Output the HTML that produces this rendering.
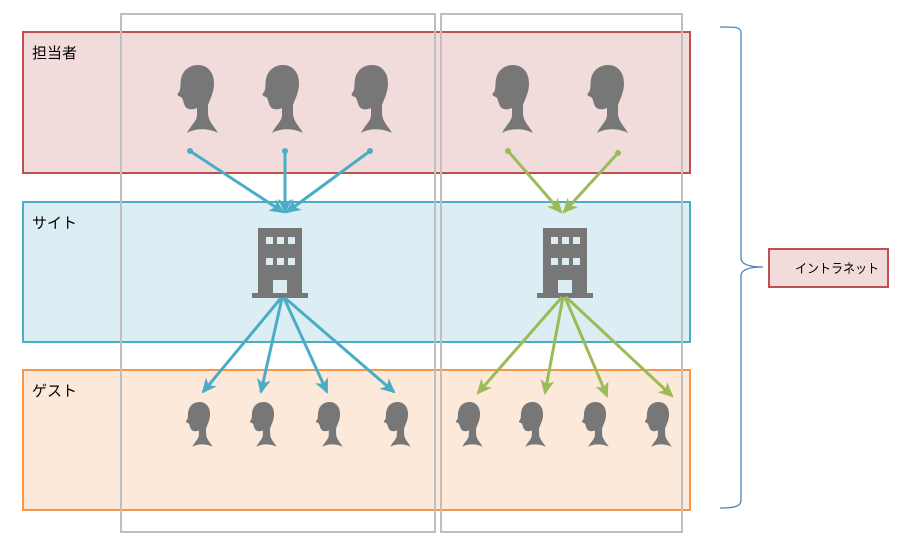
<!DOCTYPE html>
<html><head><meta charset="utf-8"><style>
body{margin:0;background:#fff}
svg{display:block}
text{font-family:"Liberation Sans","Noto Sans CJK JP",sans-serif}
</style></head><body>
<svg width="905" height="545" viewBox="0 0 905 545" xmlns="http://www.w3.org/2000/svg">
<defs>
<path id="h" d="M14,68 C18,60 24,56 24,50 L24,43 C20,45 14,45 12,41 C10,37 10,33 8,32 C5,31 3,30 6,27 C8,24 7,20 8,14 C10,4 18,0 25,0 C35,0 41,8 41,18 C41,28 37,34 35,40 L35,48 C35,56 41,61 45,68 C36,63 22,63 14,68 Z" fill="#777"/>
<g id="b">
<rect x="-22" y="0" width="44" height="66" fill="#777"/>
<rect x="-28" y="65" width="56" height="5" fill="#777"/>
<g fill="#dbedf3">
<rect x="-14" y="9" width="7" height="7"/><rect x="-3" y="9" width="7" height="7"/><rect x="8" y="9" width="7" height="7"/>
<rect x="-14" y="30" width="7" height="7"/><rect x="-3" y="30" width="7" height="7"/><rect x="8" y="30" width="7" height="7"/>
<rect x="-7" y="52" width="14" height="13"/>
</g>
</g>
<marker id="ab" markerWidth="15" markerHeight="14" refX="13" refY="7" orient="auto" markerUnits="userSpaceOnUse" viewBox="0 0 15 14"><path d="M0,0 L15,7 L0,14 L4,7 Z" fill="#4bacc6"/></marker>
<marker id="ag" markerWidth="15" markerHeight="14" refX="13" refY="7" orient="auto" markerUnits="userSpaceOnUse" viewBox="0 0 15 14"><path d="M0,0 L15,7 L0,14 L4,7 Z" fill="#9bbb59"/></marker>
</defs>
<rect x="23" y="32" width="667" height="141" fill="#f2dcdb" stroke="#c0504d" stroke-width="2"/>
<rect x="23" y="202" width="667" height="140" fill="#dbeef3" stroke="#4bacc6" stroke-width="2"/>
<rect x="23" y="370" width="667" height="140" fill="#fde9d9" stroke="#f79646" stroke-width="2"/>
<text x="32" y="58" font-size="15">担当者</text>
<text x="32" y="228" font-size="15">サイト</text>
<text x="32" y="396" font-size="15">ゲスト</text>
<rect x="121" y="14" width="314" height="518" fill="none" stroke="#bfbfbf" stroke-width="2"/>
<rect x="441" y="14" width="241" height="518" fill="none" stroke="#bfbfbf" stroke-width="2"/>
<use href="#h" x="173" y="65"/><use href="#h" x="258" y="65"/><use href="#h" x="347" y="65"/>
<use href="#h" x="488" y="65"/><use href="#h" x="583" y="65"/>
<g transform="translate(183,402) scale(0.66)"><use href="#h"/></g>
<g transform="translate(247,402) scale(0.66)"><use href="#h"/></g>
<g transform="translate(313,402) scale(0.66)"><use href="#h"/></g>
<g transform="translate(381,402) scale(0.66)"><use href="#h"/></g>
<g transform="translate(453,402) scale(0.66)"><use href="#h"/></g>
<g transform="translate(516,402) scale(0.66)"><use href="#h"/></g>
<g transform="translate(579,402) scale(0.66)"><use href="#h"/></g>
<g transform="translate(642,402) scale(0.66)"><use href="#h"/></g>
<use href="#b" x="280" y="228"/><use href="#b" x="565" y="228"/>
<g stroke="#4bacc6" stroke-width="3" fill="none" marker-end="url(#ab)">
<line x1="190" y1="151" x2="283" y2="212"/>
<line x1="285" y1="151" x2="285" y2="212"/>
<line x1="370" y1="151" x2="287" y2="212"/>
<line x1="281" y1="298" x2="203" y2="392"/>
<line x1="282" y1="298" x2="261" y2="392"/>
<line x1="284" y1="298" x2="327" y2="392"/>
<line x1="285" y1="298" x2="394" y2="392"/>
</g>
<g fill="#4bacc6"><circle cx="190" cy="151" r="3"/><circle cx="285" cy="151" r="3"/><circle cx="370" cy="151" r="3"/></g>
<g stroke="#9bbb59" stroke-width="3" fill="none" marker-end="url(#ag)">
<line x1="508" y1="151" x2="561" y2="212"/>
<line x1="618" y1="153" x2="564" y2="212"/>
<line x1="562" y1="297" x2="478" y2="393"/>
<line x1="563" y1="297" x2="545" y2="393"/>
<line x1="565" y1="297" x2="607" y2="396"/>
<line x1="566" y1="297" x2="672" y2="396"/>
</g>
<g fill="#9bbb59"><circle cx="508" cy="151" r="3"/><circle cx="618" cy="153" r="3"/></g>
<path d="M720,27 C736,27 741,27 741,33 L741,258 C741,264 748,267 763,267 C748,267 741,270 741,276 L741,500 C741,506 736,508 720,508" fill="none" stroke="#4f81bd" stroke-width="1.3"/>
<rect x="769" y="249" width="119" height="38" fill="#f2dcdb" stroke="#c0504d" stroke-width="2"/>
<text x="795" y="273" font-size="13" textLength="84" lengthAdjust="spacingAndGlyphs">イントラネット</text>
</svg>
</body></html>
